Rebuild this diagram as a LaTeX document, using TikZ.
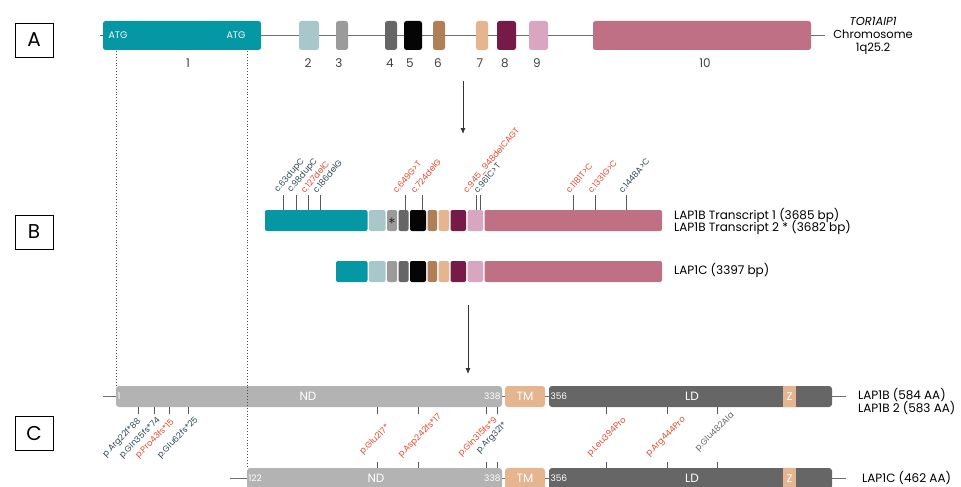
\documentclass[tikz,border=0pt]{standalone}
\usepackage{fontspec}
\setmainfont{Poppins}
\usetikzlibrary{arrows.meta}
\definecolor{exteal}{HTML}{0597A3}
\definecolor{exlight}{HTML}{A7C7CB}
\definecolor{exgray}{HTML}{9B9B9B}
\definecolor{exdark}{HTML}{666666}
\definecolor{exblack}{HTML}{050505}
\definecolor{exbrown}{HTML}{B07E57}
\definecolor{extan}{HTML}{E4B58F}
\definecolor{explum}{HTML}{761B47}
\definecolor{expink}{HTML}{D9A6C1}
\definecolor{exrose}{HTML}{C07084}
\definecolor{ndgray}{HTML}{B3B3B3}
\definecolor{mutred}{HTML}{E5492D}
\definecolor{mutdark}{HTML}{2E4A56}
\definecolor{linegray}{HTML}{6E6E6E}

\begin{document}
\begin{tikzpicture}[x=1pt, y=1pt,
		exon/.style={rounded corners=2.5pt, inner sep=0pt, minimum height=29pt},
		txexon/.style={rounded corners=2pt, inner sep=0pt, minimum height=21pt},
		prot/.style={rounded corners=3pt, inner sep=0pt, minimum height=21pt},
		zbox/.style={fill=extan, inner sep=0pt, minimum width=13pt, minimum height=21pt, text=white, font=\fontsize{11}{13}\selectfont},
		panelbox/.style={draw, line width=0.8pt, minimum width=38pt, minimum height=34pt, font=\fontsize{20}{24}\selectfont},
		exnum/.style={text=black!75, font=\fontsize{12}{14}\selectfont},
		intext/.style={text=white, inner sep=1.5pt, font=\fontsize{9}{11}\selectfont},
		domtext/.style={text=white, font=\fontsize{12}{14}\selectfont},
		rlabel/.style={anchor=west, inner sep=0pt, font=\fontsize{12}{14}\selectfont},
		mutB/.style={rotate=50, anchor=south west, inner sep=0.5pt, font=\fontsize{8.5}{10}\selectfont},
		mutC/.style={rotate=45, inner sep=0.5pt, font=\fontsize{8.5}{10}\selectfont},
		gene/.style={draw=linegray, line width=0.9pt},
		tick/.style={draw=black!65, line width=1pt},
		dotline/.style={draw=black!70, line width=0.9pt, dotted},
		flow/.style={draw=black!80, line width=0.8pt, -{Latex[length=6pt, width=5pt]}}
	]
	\useasboundingbox (0,0) rectangle (961,-487);

	\node[panelbox] (pA) at (34,-40) {A};
	\node[panelbox] (pB) at (34,-232) {B};
	\node[panelbox] (pC) at (34,-433) {C};

	\coordinate (gA0) at (100,-35.5);
	\coordinate (gA1) at (825,-35.5);
	\draw[gene] (gA0) -- (gA1);

	\node[exon, fill=exteal, minimum width=158pt] (a1) at (182,-35.5) {};
	\node[exon, fill=exlight, minimum width=20pt] (a2) at (309,-35.5) {};
	\node[exon, fill=exgray, minimum width=12pt] (a3) at (342,-35.5) {};
	\node[exon, fill=exdark, minimum width=12pt] (a4) at (391,-35.5) {};
	\node[exon, fill=exblack, minimum width=18pt] (a5) at (413,-35.5) {};
	\node[exon, fill=exbrown, minimum width=12pt] (a6) at (439,-35.5) {};
	\node[exon, fill=extan, minimum width=12pt] (a7) at (482,-35.5) {};
	\node[exon, fill=explum, minimum width=19pt] (a8) at (506.5,-35.5) {};
	\node[exon, fill=expink, minimum width=19pt] (a9) at (538.5,-35.5) {};
	\node[exon, fill=exrose, minimum width=218pt] (a10) at (702,-35.5) {};

	\node[intext, font=\fontsize{9.5}{11}\selectfont] (atgA) at (118,-35) {ATG};
	\node[intext, font=\fontsize{9.5}{11}\selectfont] (atgB) at (236,-35) {ATG};

	\node[exnum] (n1) at (188,-63) {1};
	\node[exnum] (n2) at (308,-63) {2};
	\node[exnum] (n3) at (339,-63) {3};
	\node[exnum] (n4) at (390,-63) {4};
	\node[exnum] (n5) at (410,-63) {5};
	\node[exnum] (n6) at (438,-63) {6};
	\node[exnum] (n7) at (480,-63) {7};
	\node[exnum] (n8) at (505,-63) {8};
	\node[exnum] (n9) at (537,-63) {9};
	\node[exnum] (n10) at (705,-63) {10};

	\node[align=center, font=\fontsize{11.5}{13}\selectfont] (chr) at (873,-36) {\textit{TOR1AIP1}\\Chromosome\\1q25.2};

	\coordinate (arA0) at (463,-81);
	\coordinate (arA1) at (463,-134);
	\draw[flow] (arA0) -- (arA1);

	\node[txexon, fill=exteal, minimum width=102.5pt] (b1) at (316.25,-220.5) {};
	\node[txexon, fill=exlight, minimum width=16.5pt] (b2) at (377.25,-220.5) {};
	\node[txexon, fill=exgray, minimum width=10pt] (b3) at (392,-220.5) {};
	\node[txexon, fill=exdark, minimum width=10pt] (b4) at (403.5,-220.5) {};
	\node[txexon, fill=exblack, minimum width=16pt] (b5) at (418,-220.5) {};
	\node[txexon, fill=exbrown, minimum width=9.5pt] (b6) at (432.25,-220.5) {};
	\node[txexon, fill=extan, minimum width=10.5pt] (b7) at (443.75,-220.5) {};
	\node[txexon, fill=explum, minimum width=15.5pt] (b8) at (458.25,-220.5) {};
	\node[txexon, fill=expink, minimum width=15.5pt] (b9) at (475.25,-220.5) {};
	\node[txexon, fill=exrose, minimum width=177.5pt] (b10) at (573.25,-220.5) {};
	\node[inner sep=0pt, font=\fontsize{14}{14}\selectfont] (star) at (392,-221.5) {$\ast$};

	\node[txexon, fill=exteal, minimum width=31.5pt] (c1) at (351.75,-271.5) {};
	\node[txexon, fill=exlight, minimum width=16.5pt] (c2) at (377.25,-271.5) {};
	\node[txexon, fill=exgray, minimum width=10pt] (c3) at (392,-271.5) {};
	\node[txexon, fill=exdark, minimum width=10pt] (c4) at (403.5,-271.5) {};
	\node[txexon, fill=exblack, minimum width=16pt] (c5) at (418,-271.5) {};
	\node[txexon, fill=exbrown, minimum width=9.5pt] (c6) at (432.25,-271.5) {};
	\node[txexon, fill=extan, minimum width=10.5pt] (c7) at (443.75,-271.5) {};
	\node[txexon, fill=explum, minimum width=15.5pt] (c8) at (458.25,-271.5) {};
	\node[txexon, fill=expink, minimum width=15.5pt] (c9) at (475.25,-271.5) {};
	\node[txexon, fill=exrose, minimum width=177.5pt] (c10) at (573.25,-271.5) {};

	\node[rlabel] (tr1) at (674,-215) {LAP1B Transcript 1 (3685 bp)};
	\node[rlabel] (tr2) at (674,-227) {LAP1B Transcript 2 * (3682 bp)};
	\node[rlabel] (tr3) at (674,-270) {LAP1C (3397 bp)};

	\coordinate (m63) at (283,-195);
	\coordinate (m98) at (296,-195);
	\coordinate (m127) at (308,-195);
	\coordinate (m186) at (320,-195);
	\coordinate (m649) at (405,-195);
	\coordinate (m724) at (422,-195);
	\coordinate (m945) at (476,-195);
	\coordinate (m961) at (480,-195);
	\coordinate (m1181) at (573,-195);
	\coordinate (m1331) at (595,-195);
	\coordinate (m1448) at (626,-195);

	\draw[tick] (m63) -- (m63 |- b1.north);
	\draw[tick] (m98) -- (m98 |- b1.north);
	\draw[tick] (m127) -- (m127 |- b1.north);
	\draw[tick] (m186) -- (m186 |- b1.north);
	\draw[tick] (m649) -- (m649 |- b4.north);
	\draw[tick] (m724) -- (m724 |- b5.north);
	\draw[tick] (m945) -- (m945 |- b9.north);
	\draw[tick] (m961) -- (m961 |- b9.north);
	\draw[tick] (m1181) -- (m1181 |- b10.north);
	\draw[tick] (m1331) -- (m1331 |- b10.north);
	\draw[tick] (m1448) -- (m1448 |- b10.north);

	\node[mutB, text=mutdark] (t63) at ([xshift=-3pt]m63) {c.63dupC};
	\node[mutB, text=mutdark] (t98) at ([xshift=-3pt]m98) {c.98dupC};
	\node[mutB, text=mutred] (t127) at ([xshift=-3pt]m127) {c.127delC};
	\node[mutB, text=mutdark] (t186) at ([xshift=-3pt]m186) {c.186delG};
	\node[mutB, text=mutred] (t649) at ([xshift=-8pt]m649) {c.649G>T};
	\node[mutB, text=mutred] (t724) at ([xshift=-7pt]m724) {c.724delG};
	\node[mutB, text=mutred] (t945) at ([xshift=-8pt]m945) {c.945\_948delCAGT};
	\node[mutB, text=mutdark] (t961) at ([xshift=-2pt]m961) {c.961C>T};
	\node[mutB, text=mutred] (t1181) at ([xshift=-3pt]m1181) {c.1181T>C};
	\node[mutB, text=mutred] (t1331) at ([xshift=-3pt]m1331) {c.1331G>C};
	\node[mutB, text=mutdark] (t1448) at ([xshift=-3pt]m1448) {c.1448A>C};

	\coordinate (arB0) at (468,-305);
	\coordinate (arB1) at (468,-374);
	\draw[flow] (arB0) -- (arB1);

	\coordinate (pB0) at (103,-396.5);
	\coordinate (pB1) at (846,-396.5);
	\coordinate (pC0) at (230,-478.5);
	\coordinate (pC1) at (846,-478.5);
	\draw[gene] (pB0) -- (pB1);
	\draw[gene] (pC0) -- (pC1);

	\node[prot, fill=ndgray, minimum width=386pt] (ndb) at (309,-396.5) {};
	\node[prot, fill=extan, minimum width=40pt] (tmb) at (525,-396.5) {};
	\node[prot, fill=exdark, minimum width=283pt] (ldb) at (690.5,-396.5) {};
	\node[zbox] (zb) at (789.5,-396.5) {Z};

	\node[prot, fill=ndgray, minimum width=255pt] (ndc) at (374.5,-478.5) {};
	\node[prot, fill=extan, minimum width=40pt] (tmc) at (525,-478.5) {};
	\node[prot, fill=exdark, minimum width=283pt] (ldc) at (690.5,-478.5) {};
	\node[zbox] (zc) at (789.5,-478.5) {Z};

	\coordinate (atg1) at (116,-51);
	\coordinate (atg2) at (247,-51);
	\draw[dotline] (atg1) -- (atg1 |- ndb.north);
	\draw[dotline] (atg2) -- (atg2 |- ndc.north);

	\node[intext, anchor=west] (s1) at (ndb.west) {1};
	\node[domtext] (ndlb) at (308,-396.5) {ND};
	\node[intext, anchor=east] (e338b) at (ndb.east) {338};
	\node[domtext] (tmlb) at (tmb) {TM};
	\node[intext, anchor=west] (s356b) at (ldb.west) {356};
	\node[domtext] (ldlb) at (692,-396.5) {LD};

	\node[intext, anchor=west] (s122) at (ndc.west) {122};
	\node[domtext] (ndlc) at (376,-478.5) {ND};
	\node[intext, anchor=east] (e338c) at (ndc.east) {338};
	\node[domtext] (tmlc) at (tmc) {TM};
	\node[intext, anchor=west] (s356c) at (ldc.west) {356};
	\node[domtext] (ldlc) at (692,-478.5) {LD};

	\node[rlabel] (pr1) at (858,-395) {LAP1B (584 AA)};
	\node[rlabel] (pr2) at (858,-408) {LAP1B 2 (583 AA)};
	\node[rlabel] (pr3) at (862,-478) {LAP1C (462 AA)};

	\coordinate (q22) at (138,0);
	\coordinate (q35) at (154,0);
	\coordinate (q43) at (169,0);
	\coordinate (q62) at (188,0);
	\coordinate (q217) at (377,0);
	\coordinate (q242) at (418,0);
	\coordinate (q315) at (486,0);
	\coordinate (q321) at (497,0);
	\coordinate (q394) at (606,0);
	\coordinate (q444) at (667,0);
	\coordinate (q482) at (717,0);

	\draw[tick] (q22 |- ndb.south) -- ++(0,-7);
	\draw[tick] (q35 |- ndb.south) -- ++(0,-7);
	\draw[tick] (q43 |- ndb.south) -- ++(0,-7);
	\draw[tick] (q62 |- ndb.south) -- ++(0,-7);
	\draw[tick] (q217 |- ndb.south) -- ++(0,-7);
	\draw[tick] (q242 |- ndb.south) -- ++(0,-7);
	\draw[tick] (q315 |- ndb.south) -- ++(0,-7);
	\draw[tick] (q321 |- ndb.south) -- ++(0,-7);
	\draw[tick] (q394 |- ldb.south) -- ++(0,-7);
	\draw[tick] (q444 |- ldb.south) -- ++(0,-7);
	\draw[tick] (q482 |- ldb.south) -- ++(0,-7);
	\draw[tick] (q217 |- ndc.north) -- ++(0,6);
	\draw[tick] (q242 |- ndc.north) -- ++(0,6);
	\draw[tick] (q315 |- ndc.north) -- ++(0,6);
	\draw[tick] (q321 |- ndc.north) -- ++(0,6);
	\draw[tick] (q394 |- ldc.north) -- ++(0,6);
	\draw[tick] (q444 |- ldc.north) -- ++(0,6);
	\draw[tick] (q482 |- ldc.north) -- ++(0,6);

	\node[mutC, text=mutdark] (u22) at (122,-438) {p.Arg22f*88};
	\node[mutC, text=mutdark] (u35) at (140,-438) {p.Gln35fs*74};
	\node[mutC, text=mutred] (u43) at (155,-439) {p.Pro43fs*15};
	\node[mutC, text=mutdark] (u62) at (178,-438) {p.Glu62fs*25};
	\node[mutC, text=mutred] (u217) at (375,-440) {p.Glu217*};
	\node[mutC, text=mutred] (u242) at (420,-436) {p.Asp242fs*17};
	\node[mutC, text=mutred] (u315) at (478,-437) {p.Gln315fs*9};
	\node[mutC, text=mutdark] (u321) at (492,-438) {p.Arg321*};
	\node[mutC, text=mutred] (u394) at (607,-437) {p.Leu394Pro};
	\node[mutC, text=mutred] (u444) at (666,-437) {p.Arg444Pro};
	\node[mutC, text=black!60] (u482) at (715,-432) {p.Glu482Ala};
\end{tikzpicture}
\end{document}
